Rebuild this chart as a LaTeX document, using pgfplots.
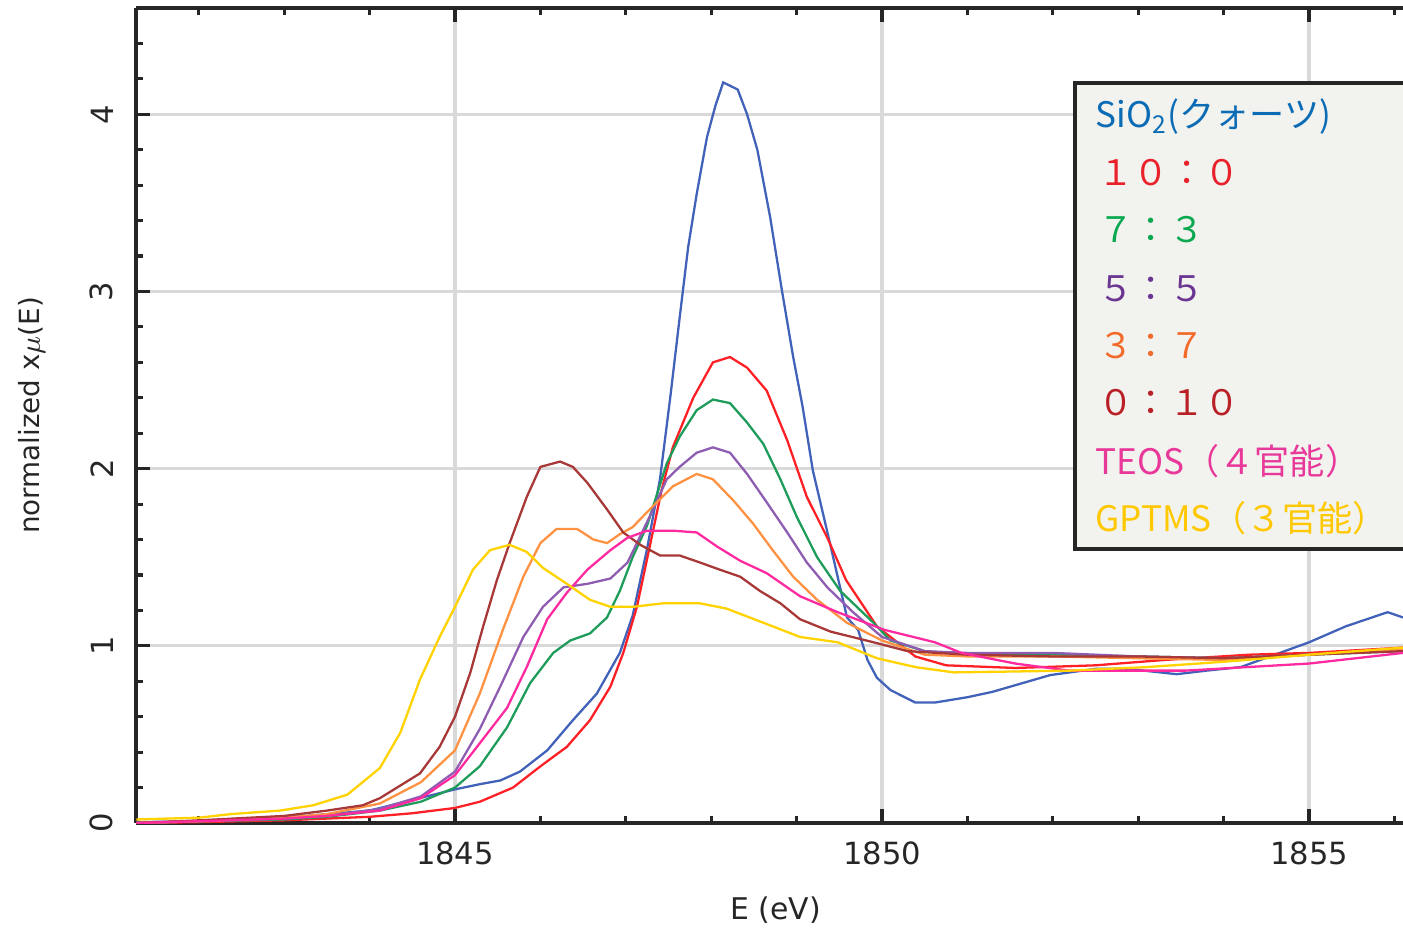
\documentclass[border=0pt]{standalone}
\usepackage{pgfplots}
\pgfplotsset{compat=1.18}
\usepackage{fontspec}
\setmainfont{DejaVu Sans}
\newfontfamily\jp{Noto Sans CJK JP}
\usetikzlibrary{calc}

% line colours
\definecolor{lSiO}{HTML}{4262B9}
\definecolor{lA}{HTML}{FF2026}
\definecolor{lB}{HTML}{1E9C5A}
\definecolor{lC}{HTML}{8E5DB2}
\definecolor{lD}{HTML}{FF9242}
\definecolor{lE}{HTML}{A83838}
\definecolor{lTEOS}{HTML}{FF2AA0}
\definecolor{lGPTMS}{HTML}{FFD200}
% legend text colours
\definecolor{tSiO}{HTML}{0B6CB5}
\definecolor{tA}{HTML}{E8212B}
\definecolor{tB}{HTML}{0AA84F}
\definecolor{tC}{HTML}{6B3592}
\definecolor{tD}{HTML}{F26B2B}
\definecolor{tE}{HTML}{B82025}
\definecolor{tTEOS}{HTML}{E8399A}
\definecolor{tGPTMS}{HTML}{FFC800}
\definecolor{legbg}{HTML}{F2F2EE}

\begin{document}
\begin{tikzpicture}
\begin{axis}[
  scale only axis, width=12.67cm, height=8.15cm,
  xmin=1841.265, xmax=1856.1, ymin=0, ymax=4.6,
  axis x line*=box, axis y line*=left,
  axis line style={line width=1pt, draw=black!85},
  tick align=inside,
  major tick length=0.14cm, minor tick length=0.07cm,
  xtick={1845,1850,1855}, minor xtick={1842,1843,...,1856},
  ytick={0,1,2,3,4}, minor ytick={0.2,0.4,0.6,0.8,1.2,1.4,1.6,1.8,2.2,2.4,2.6,2.8,3.2,3.4,3.6,3.8,4.2,4.4},
  every tick/.style={line width=0.9pt, black!85},
  grid=major, major grid style={line width=0.9pt, black!15},
  /pgf/number format/assume math mode=true,
  /pgf/number format/1000 sep={},
  xticklabel style={font=\fontsize{8.7}{10}\selectfont, inner sep=0pt, anchor=north, text=black!85},
  xticklabel shift=0.18cm,
  yticklabel style={font=\fontsize{8.7}{10}\selectfont, rotate=90, anchor=south, inner sep=0pt, text=black!85},
  yticklabel shift=0.22cm,
  xlabel={E (eV)}, ylabel={normalized x$\mu$(E)},
  every axis x label/.style={at={(rel axis cs:0.505,-0.1067)}, anchor=center,
    font=\fontsize{8.5}{10}\selectfont, text=black!85},
  every axis y label/.style={at={(rel axis cs:-0.0821,0.5)}, anchor=center, rotate=90,
    font=\fontsize{7.9}{10}\selectfont, text=black!85},
  every axis plot/.append style={line width=0.65pt, sharp plot},
]
\coordinate (sw) at (rel axis cs:0,0);

% SiO2 (quartz)
\addplot[lSiO] coordinates {
(1841.27,0.005) (1842.0,0.01) (1842.5,0.02) (1843.0,0.03) (1843.5,0.05) (1844.0,0.07)
(1844.5,0.13) (1845.0,0.19) (1845.3,0.22) (1845.53,0.24) (1845.76,0.29) (1846.08,0.41)
(1846.38,0.58) (1846.66,0.73) (1846.93,0.96) (1847.08,1.17) (1847.25,1.55) (1847.40,1.94)
(1847.52,2.40) (1847.63,2.85) (1847.73,3.25) (1847.83,3.55) (1847.95,3.87) (1848.05,4.05)
(1848.14,4.18) (1848.31,4.14) (1848.42,4.00) (1848.54,3.80) (1848.69,3.42) (1848.83,3.00)
(1848.96,2.63) (1849.07,2.35) (1849.19,1.99) (1849.39,1.58) (1849.59,1.16) (1849.72,1.09)
(1849.83,0.92) (1849.94,0.82) (1850.1,0.75) (1850.39,0.68) (1850.62,0.68) (1851.0,0.71)
(1851.29,0.74) (1851.97,0.835) (1852.5,0.87) (1852.87,0.87) (1853.45,0.84) (1853.8,0.86)
(1854.2,0.88) (1854.6,0.95) (1855.0,1.02) (1855.43,1.11) (1855.92,1.19) (1856.1,1.16)};

% 10:0
\addplot[lA] coordinates {
(1841.27,0) (1842,0.005) (1843,0.015) (1844,0.035) (1844.5,0.055) (1845.0,0.085)
(1845.29,0.12) (1845.68,0.20) (1846.0,0.32) (1846.31,0.43) (1846.58,0.58) (1846.82,0.77)
(1846.97,0.96) (1847.13,1.22) (1847.28,1.56) (1847.42,1.88) (1847.55,2.12) (1847.79,2.40)
(1848.02,2.60) (1848.22,2.63) (1848.42,2.57) (1848.65,2.44) (1848.89,2.16) (1849.12,1.84)
(1849.36,1.61) (1849.58,1.37) (1849.94,1.11) (1850.39,0.94) (1850.75,0.89) (1851.56,0.875)
(1852.5,0.89) (1853.3,0.92) (1854.3,0.95) (1855.0,0.96) (1856.1,0.99)};

% 7:3
\addplot[lB] coordinates {
(1841.27,0) (1842,0.01) (1843,0.02) (1843.5,0.035) (1844.12,0.07) (1844.6,0.12) (1845.0,0.20)
(1845.29,0.32) (1845.61,0.54) (1845.88,0.79) (1846.15,0.96) (1846.35,1.03) (1846.58,1.07)
(1846.78,1.16) (1846.93,1.31) (1847.08,1.50) (1847.25,1.68) (1847.48,2.03) (1847.63,2.18)
(1847.83,2.33) (1848.02,2.39) (1848.22,2.37) (1848.42,2.26) (1848.61,2.14) (1848.81,1.94)
(1849.0,1.73) (1849.24,1.50) (1849.51,1.31) (1849.9,1.13) (1850.1,1.03) (1850.5,0.97)
(1851,0.95) (1852,0.95) (1853,0.94) (1854,0.93) (1855,0.95) (1856.1,0.97)};

% 5:5
\addplot[lC] coordinates {
(1841.27,0) (1842,0.01) (1843,0.025) (1843.5,0.04) (1844.12,0.08) (1844.6,0.15) (1845.0,0.29)
(1845.29,0.53) (1845.53,0.77) (1845.8,1.05) (1846.03,1.22) (1846.27,1.33) (1846.55,1.35)
(1846.82,1.38) (1847.02,1.47) (1847.09,1.54) (1847.28,1.73) (1847.48,1.94) (1847.63,2.01)
(1847.83,2.09) (1848.02,2.12) (1848.22,2.09) (1848.42,1.97) (1848.65,1.81) (1848.89,1.64)
(1849.12,1.47) (1849.36,1.33) (1849.66,1.19) (1850.0,1.05) (1850.5,0.97) (1851,0.96)
(1852,0.96) (1853,0.94) (1854,0.93) (1855,0.95) (1856.1,0.98)};

% 3:7
\addplot[lD] coordinates {
(1841.27,0) (1842,0.01) (1843,0.03) (1843.5,0.05) (1844.12,0.11) (1844.6,0.23) (1845.0,0.41)
(1845.29,0.73) (1845.56,1.09) (1845.8,1.39) (1846.0,1.58) (1846.19,1.66) (1846.43,1.66)
(1846.62,1.60) (1846.78,1.58) (1846.93,1.63) (1847.08,1.67) (1847.28,1.77) (1847.55,1.90)
(1847.83,1.97) (1848.02,1.94) (1848.26,1.82) (1848.49,1.69) (1848.72,1.54) (1848.96,1.39)
(1849.24,1.26) (1849.59,1.13) (1850.0,1.03) (1850.5,0.95) (1851,0.94) (1852,0.94)
(1853,0.93) (1854,0.92) (1855,0.95) (1856.1,0.98)};

% 0:10
\addplot[lE] coordinates {
(1841.27,0) (1842,0.015) (1843,0.04) (1843.5,0.07) (1843.92,0.10) (1844.12,0.14) (1844.59,0.28)
(1844.82,0.43) (1845.0,0.60) (1845.18,0.85) (1845.33,1.11) (1845.49,1.37) (1845.64,1.58)
(1845.84,1.84) (1846.0,2.01) (1846.23,2.04) (1846.38,2.01) (1846.55,1.92) (1846.78,1.77)
(1846.97,1.64) (1847.17,1.57) (1847.40,1.51) (1847.63,1.51) (1847.87,1.47) (1848.10,1.43)
(1848.34,1.39) (1848.57,1.31) (1848.81,1.24) (1849.04,1.15) (1849.4,1.08) (1849.9,1.02)
(1850.3,0.97) (1851,0.95) (1852,0.94) (1853,0.94) (1854,0.93) (1855,0.95) (1856.1,0.97)};

% TEOS
\addplot[lTEOS] coordinates {
(1841.27,0) (1842,0.01) (1843,0.025) (1843.5,0.04) (1844.12,0.07) (1844.6,0.14) (1845.0,0.27)
(1845.29,0.45) (1845.61,0.65) (1845.84,0.88) (1846.08,1.15) (1846.31,1.30) (1846.55,1.43)
(1846.82,1.54) (1847.02,1.61) (1847.25,1.65) (1847.55,1.65) (1847.83,1.64) (1848.07,1.56)
(1848.34,1.48) (1848.65,1.41) (1849.04,1.28) (1849.48,1.19) (1850.03,1.09) (1850.62,1.02)
(1850.93,0.96) (1851.56,0.90) (1852.19,0.86) (1853.55,0.86) (1855.0,0.90) (1856.1,0.96)};

% GPTMS
\addplot[lGPTMS] coordinates {
(1841.27,0.02) (1842.0,0.03) (1842.37,0.05) (1842.95,0.07) (1843.34,0.10) (1843.74,0.16)
(1844.12,0.31) (1844.36,0.51) (1844.59,0.81) (1844.82,1.05) (1845.0,1.22) (1845.21,1.43)
(1845.41,1.54) (1845.64,1.57) (1845.84,1.53) (1846.03,1.44) (1846.31,1.35) (1846.58,1.26)
(1846.82,1.22) (1847.08,1.22) (1847.44,1.24) (1847.87,1.24) (1848.18,1.21) (1848.45,1.16)
(1848.72,1.11) (1849.04,1.05) (1849.48,1.02) (1849.94,0.93) (1850.39,0.88) (1850.84,0.85)
(1852.2,0.86) (1853.1,0.88) (1854,0.91) (1855,0.95) (1856.1,0.99)};
\end{axis}

% legend box, cut by the right edge of the picture
\begin{scope}[overlay, every node/.style={anchor=base west, inner sep=0pt, font=\jp\fontsize{10}{12}\selectfont}]
\draw[line width=1.3pt, draw=black!85, fill=legbg] ($(sw)+(9.39,2.74)$) rectangle ($(sw)+(13.4,7.40)$);
\node[text=tSiO]   at ($(sw)+(9.59,6.95)$) {SiO\textsubscript{2}(クォーツ)};
\node[text=tA]     at ($(sw)+(9.62,6.37)$) {１０：０};
\node[text=tB]     at ($(sw)+(9.62,5.80)$) {７：３};
\node[text=tC]     at ($(sw)+(9.62,5.22)$) {５：５};
\node[text=tD]     at ($(sw)+(9.62,4.65)$) {３：７};
\node[text=tE]     at ($(sw)+(9.62,4.07)$) {０：１０};
\node[text=tTEOS]  at ($(sw)+(9.59,3.49)$) {TEOS（４官能）};
\node[text=tGPTMS] at ($(sw)+(9.59,2.92)$) {GPTMS（３官能）};
\end{scope}

\pgfresetboundingbox
\path ($(sw)+(-1.36,-1.06)$) rectangle ($(sw)+(12.67,8.23)$);
\end{tikzpicture}
\end{document}
